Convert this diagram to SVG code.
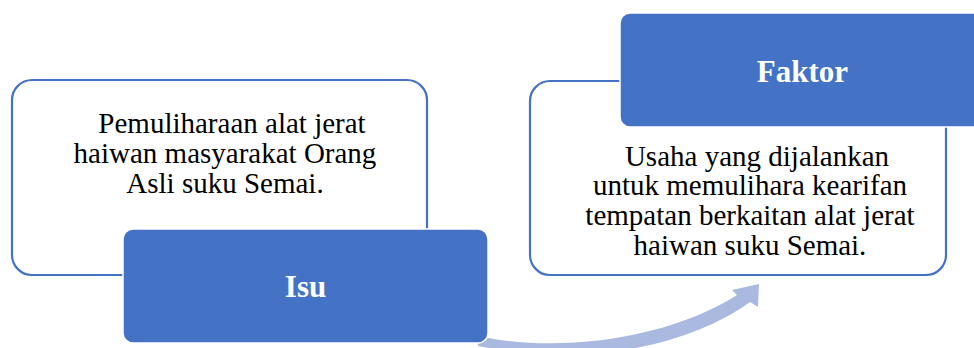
<svg xmlns="http://www.w3.org/2000/svg" width="974" height="348" viewBox="0 0 974 348">
<style>
.desc{fill:#fff;stroke:#4472C4;stroke-width:2.2}
.title{fill:#4472C4;stroke:#fff;stroke-width:1.5}
.body{font-family:"Liberation Serif","Times New Roman",serif;font-size:29px;fill:#000;text-anchor:middle}
.head{font-family:"Liberation Serif","Times New Roman",serif;font-size:31px;font-weight:bold;fill:#fff;text-anchor:middle}
.arrow{fill:#AAB9E0}
</style>
<rect width="974" height="348" fill="#fff"/>
<g id="connectors">
<path class="arrow" d="M478,336 C560,354 670,338 737,295 L732,290 L759,284 L758,307 L750,302 C690,345 590,368 478,346 Z"/>
</g>
<g id="node-isu-desc">
<rect class="desc" x="12" y="80" width="415" height="195" rx="20"/>
<text class="body" x="232" y="133">Pemuliharaan alat jerat</text>
<text class="body" x="225" y="163">haiwan masyarakat Orang</text>
<text class="body" x="225" y="193">Asli suku Semai.</text>
</g>
<g id="node-isu">
<rect class="title" x="123" y="229" width="365" height="114" rx="10"/>
<text class="head" x="305.5" y="297">Isu</text>
</g>
<g id="node-faktor-desc">
<rect class="desc" x="530" y="81" width="416" height="194" rx="20"/>
<text class="body" x="757" y="166">Usaha yang dijalankan</text>
<text class="body" x="750" y="195">untuk memulihara kearifan</text>
<text class="body" x="750" y="225">tempatan berkaitan alat jerat</text>
<text class="body" x="750" y="255">haiwan suku Semai.</text>
</g>
<g id="node-faktor">
<rect class="title" x="620" y="13" width="365" height="114" rx="10"/>
<text class="head" x="802.5" y="82">Faktor</text>
</g>
</svg>
